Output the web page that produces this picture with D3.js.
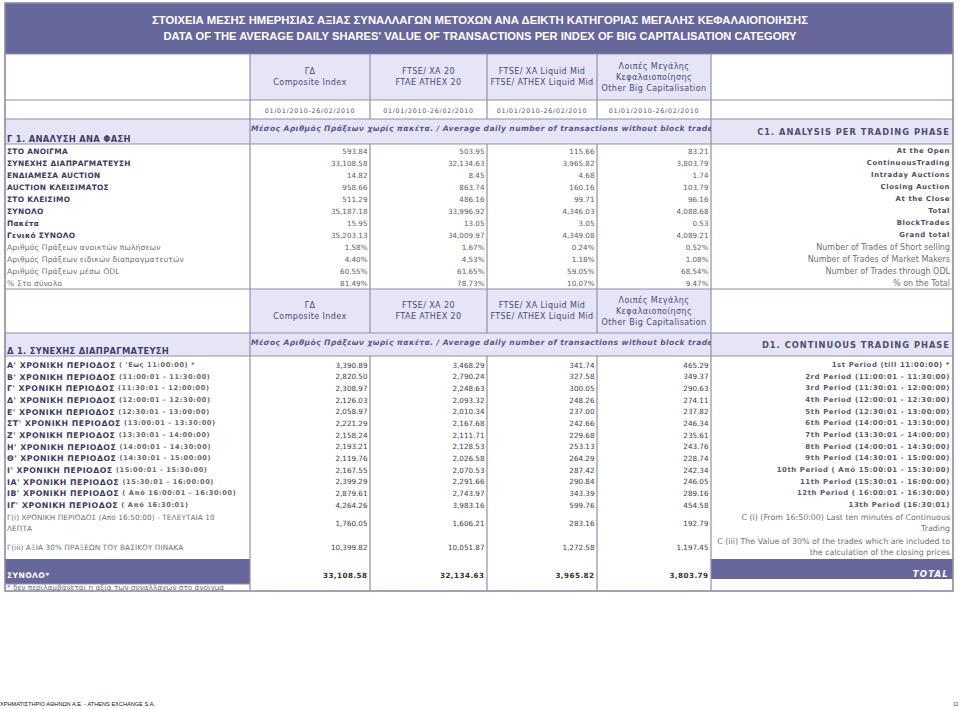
<!DOCTYPE html>
<html><head><meta charset="utf-8">
<script src="https://cdn.jsdelivr.net/npm/d3@7"></script>
<style>body{margin:0;background:#fff}svg{display:block}</style>
</head><body><svg id="c" width="960" height="709"></svg>
<script>
// ---------- DATA ----------
const titleGr = "ΣΤΟΙΧΕΙΑ ΜΕΣΗΣ ΗΜΕΡΗΣΙΑΣ ΑΞΙΑΣ ΣΥΝΑΛΛΑΓΩΝ  ΜΕΤΟΧΩΝ ΑΝΑ ΔΕΙΚΤΗ ΚΑΤΗΓΟΡΙΑΣ ΜΕΓΑΛΗΣ ΚΕΦΑΛΑΙΟΠΟΙΗΣΗΣ";
const titleEn = "DATA OF THE AVERAGE  DAILY SHARES' VALUE OF TRANSACTIONS PER INDEX OF BIG CAPITALISATION CATEGORY";
const indexHeaders = [
  ["ΓΔ", "Composite Index"],
  ["FTSE/ ΧΑ 20", "FTAE ATHEX 20"],
  ["FTSE/ ΧΑ Liquid Mid", "FTSE/ ATHEX Liquid Mid"],
  ["Λοιπές Μεγάλης", "Κεφαλαιοποίησης", "Other  Big Capitalisation"]
];
const periodLabel = "01/01/2010-26/02/2010";
const measureLabel = "Μέσος  Αριθμός Πράξεων χωρίς πακέτα.  /  Average daily number of transactions without block trades";
const sectionC1Gr = "Γ 1. ΑΝΑΛΥΣΗ ΑΝΑ ΦΑΣΗ";
const sectionC1En = "C1. ANALYSIS PER TRADING PHASE";
const sectionD1Gr = "Δ 1. ΣΥΝΕΧΗΣ ΔΙΑΠΡΑΓΜΑΤΕΥΣΗ";
const sectionD1En = "D1. CONTINUOUS TRADING PHASE";

// C1 – trading phases
const phaseGr = ["ΣΤΟ ΑΝΟΙΓΜΑ", "ΣΥΝΕΧΗΣ ΔΙΑΠΡΑΓΜΑΤΕΥΣΗ", "ΕΝΔΙΑΜΕΣΑ AUCTION", "AUCTION ΚΛΕΙΣΙΜΑΤΟΣ", "ΣΤΟ ΚΛΕΙΣΙΜΟ", "ΣΥΝΟΛΟ", "Πακέτα", "Γενικό ΣΥΝΟΛΟ"];
const phaseEn = ["At the Open", "ContinuousTrading", "Intraday Auctions", "Closing Auction", "At the Close", "Total", "BlockTrades", "Grand total"];
const phaseComposite = [593.84, 33108.58, 14.82, 958.66, 511.29, 35187.18, 15.95, 35203.13];
const phaseFtse20    = [503.95, 32134.63, 8.45, 863.74, 486.16, 33996.92, 13.05, 34009.97];
const phaseLiquidMid = [115.66, 3965.82, 4.68, 160.16, 99.71, 4346.03, 3.05, 4349.08];
const phaseOtherBig  = [83.21, 3803.79, 1.74, 103.79, 96.16, 4088.68, 0.53, 4089.21];

// C1 – shares (%)
const ratioGr = ["Αριθμός Πράξεων ανοικτών πωλήσεων", "Αριθμός Πράξεων ειδικών διαπραγματευτών", "Αριθμός  Πράξεων μέσω ODL", "% Στο σύνολο"];
const ratioEn = ["Number of Trades of Short selling", "Number of Trades  of Market Makers", "Number of Trades through ODL", "% on the Total"];
const ratioComposite = [1.58, 4.40, 60.55, 81.49];
const ratioFtse20    = [1.67, 4.53, 61.65, 78.73];
const ratioLiquidMid = [0.24, 1.18, 59.05, 10.07];
const ratioOtherBig  = [0.52, 1.08, 68.54, 9.47];

// D1 – continuous trading periods
const periodPrefixGr = ["Α' ΧΡΟΝΙΚΗ ΠΕΡΙΟΔΟΣ", "Β' ΧΡΟΝΙΚΗ ΠΕΡΙΟΔΟΣ", "Γ' ΧΡΟΝΙΚΗ ΠΕΡΙΟΔΟΣ", "Δ' ΧΡΟΝΙΚΗ ΠΕΡΙΟΔΟΣ", "Ε' ΧΡΟΝΙΚΗ ΠΕΡΙΟΔΟΣ", "ΣΤ' ΧΡΟΝΙΚΗ ΠΕΡΙΟΔΟΣ", "Ζ' ΧΡΟΝΙΚΗ ΠΕΡΙΟΔΟΣ", "Η' ΧΡΟΝΙΚΗ ΠΕΡΙΟΔΟΣ", "Θ' ΧΡΟΝΙΚΗ ΠΕΡΙΟΔΟΣ", "Ι' ΧΡΟΝΙΚΗ ΠΕΡΙΟΔΟΣ", "ΙΑ' ΧΡΟΝΙΚΗ ΠΕΡΙΟΔΟΣ", "ΙΒ' ΧΡΟΝΙΚΗ ΠΕΡΙΟΔΟΣ", "ΙΓ' ΧΡΟΝΙΚΗ ΠΕΡΙΟΔΟΣ"];
const periodSuffixGr = ["( 'Εως 11:00:00) *", "(11:00:01 - 11:30:00)", "(11:30:01 - 12:00:00)", "(12:00:01 - 12:30:00)", "(12:30:01 - 13:00:00)", "(13:00:01 - 13:30:00)", "(13:30:01 - 14:00:00)", "(14:00:01 - 14:30:00)", "(14:30:01 - 15:00:00)", "(15:00:01 - 15:30:00)", "(15:30:01 - 16:00:00)", "( Από 16:00:01 - 16:30:00)", "( Από 16:30:01)"];
const periodEn = ["1st Period   (till 11:00:00) *", "2rd Period (11:00:01 - 11:30:00)", "3rd Period (11:30:01 - 12:00:00)", "4th Period (12:00:01 - 12:30:00)", "5th Period (12:30:01 - 13:00:00)", "6th Period (14:00:01 - 13:30:00)", "7th Period (13:30:01 - 14:00:00)", "8th Period (14:00:01 - 14:30:00)", "9th Period (14:30:01 - 15:00:00)", "10th Period ( Από 15:00:01 - 15:30:00)", "11th Period (15:30:01 - 16:00:00)", "12th Period ( 16:00:01 - 16:30:00)", "13th Period (16:30:01)"];
const periodComposite = [3390.89, 2820.50, 2308.97, 2126.03, 2058.97, 2221.29, 2158.24, 2193.21, 2119.76, 2167.55, 2399.29, 2879.61, 4264.26];
const periodFtse20    = [3468.29, 2790.24, 2248.63, 2093.32, 2010.34, 2167.68, 2111.71, 2128.53, 2026.58, 2070.53, 2291.66, 2743.97, 3983.16];
const periodLiquidMid = [341.74, 327.58, 300.05, 248.26, 237.00, 242.66, 229.68, 253.13, 264.29, 287.42, 290.84, 343.39, 599.76];
const periodOtherBig  = [465.29, 349.37, 290.63, 274.11, 237.82, 246.34, 235.61, 243.76, 228.74, 242.34, 246.05, 289.16, 454.58];

// D1 – extra rows
const extraGr = [["Γ(i) ΧΡΟΝΙΚΗ ΠΕΡΙΟΔΟΣ (Από 16:50:00) - ΤΕΛΕΥΤΑΙΑ 10", "ΛΕΠΤΑ"], ["Γ(iii) ΑΞΙΑ 30% ΠΡΑΞΕΩΝ ΤΟΥ ΒΑΣΙΚΟΥ ΠΙΝΑΚΑ"]];
const extraEn = [["C (i)  (From 16:50:00)  Last ten minutes of Continuous", "Trading"], ["C (iii) The Value of 30% of the trades which  are included to", "the calculation of the closing prices"]];
const extraComposite = [1760.05, 10399.82];
const extraFtse20    = [1606.21, 10051.87];
const extraLiquidMid = [283.16, 1272.58];
const extraOtherBig  = [192.79, 1197.45];

const totalGr = "ΣΥΝΟΛΟ*";
const totalEn = "TOTAL";
const totalValues = [33108.58, 32134.63, 3965.82, 3803.79];
const footnote = "* δεν περιλαμβάνεται η αξία των συναλλαγών στο άνοιγμα";
const footerLeft = "ΧΡΗΜΑΤΙΣΤΗΡΙΟ ΑΘΗΝΩΝ Α.Ε. - ATHENS EXCHANGE S.A.";
const footerPage = "13";

// ---------- LAYOUT ----------
const svg = d3.select("#c");
const F = "'DejaVu Sans', Verdana, sans-serif";
const PURPLE = "#67679b", LAV = "#e5e5f6", LINE = "#8f8fad";
const NAVY = "#3f3f6c", GREY = "#5c5c5c", LGREY = "#707070";

const colKeys = ["label", "composite", "ftse20", "liquidMid", "otherBig", "english"];
const colLeft = d3.scaleOrdinal().domain(colKeys).range([5, 250, 370, 487, 597, 711]);
const colRight = d3.scaleOrdinal().domain(colKeys).range([250, 370, 487, 597, 711, 953]);
const valueCols = colKeys.slice(1, 5);
const L = 5, R = 953;

const fmtNum = d3.format(",.2f");
const fmtPct = v => d3.format(".2f")(v) + "%";

const yC1 = d3.scaleBand().domain(d3.range(phaseGr.length + ratioGr.length)).range([145, 289]);
const yD1 = d3.scaleBand().domain(d3.range(periodPrefixGr.length)).range([359.2, 511]);
const yExtra = d3.scaleBand().domain(d3.range(extraGr.length)).range([511, 559]);

const gFill = svg.append("g"), gLine = svg.append("g"), gText = svg.append("g");

function rect(x0, y0, x1, y1, fill) {
  gFill.append("rect").attr("x", x0).attr("y", y0).attr("width", x1 - x0).attr("height", y1 - y0).attr("fill", fill);
}
function hline(y, x0 = L, x1 = R) {
  gLine.append("line").attr("x1", x0).attr("x2", x1).attr("y1", y).attr("y2", y).attr("stroke", LINE).attr("stroke-width", 1.2);
}
function vline(x, y0, y1) {
  gLine.append("line").attr("x1", x).attr("x2", x).attr("y1", y0).attr("y2", y1).attr("stroke", LINE).attr("stroke-width", 1.2);
}
function text(x, y, s, o = {}) {
  const t = gText.append("text").attr("x", x).attr("y", y).text(s)
    .attr("font-family", o.family || F).attr("font-size", o.size || 7)
    .attr("font-weight", o.weight || "normal").attr("font-style", o.style || "normal")
    .attr("fill", o.fill || GREY).attr("text-anchor", o.anchor || "start")
    .attr("dominant-baseline", "central");
  if (o.ls) t.attr("letter-spacing", o.ls);
  if (o.tl) t.attr("textLength", o.tl).attr("lengthAdjust", "spacingAndGlyphs");
  if (o.clip) t.attr("clip-path", o.clip);
  return t;
}

// fills
rect(L, 3, R, 54, PURPLE);
rect(colLeft("composite"), 54, colRight("otherBig"), 100, LAV);
rect(L, 119, R, 144, LAV);
rect(colLeft("composite"), 289, colRight("otherBig"), 333, LAV);
rect(L, 333, R, 356, LAV);
rect(L, 559, colRight("label"), 584, PURPLE);
rect(colLeft("english"), 559, R, 579, PURPLE);

// lines
[54, 100, 119, 144, 289, 333, 356].forEach(y => hline(y));
hline(584, L, colRight("label"));
gLine.append("rect").attr("x", L).attr("y", 3).attr("width", R - L).attr("height", 588)
  .attr("fill", "none").attr("stroke", "#8a8aa6").attr("stroke-width", 1.6);
vline(colLeft("composite"), 54, 591);
vline(colLeft("english"), 54, 591);
["ftse20", "liquidMid", "otherBig"].forEach(k => {
  vline(colLeft(k), 54, 119); vline(colLeft(k), 144, 333); vline(colLeft(k), 356, 591);
});

// title
const TF = "'Liberation Sans', Arial, sans-serif";
text(480, 20, titleGr, {size: 11, weight: "bold", fill: "#fff", anchor: "middle", family: TF, tl: 656});
text(480, 36, titleEn, {size: 11, weight: "bold", fill: "#fff", anchor: "middle", family: TF, tl: 633});

// column headers (two header blocks)
function headers(yTop, yBot) {
  valueCols.forEach((k, i) => {
    const lines = indexHeaders[i];
    const cx = (colLeft(k) + colRight(k)) / 2;
    const cy = (yTop + yBot) / 2;
    const lh = 11;
    lines.forEach((s, j) => text(cx, cy + (j - (lines.length - 1) / 2) * lh, s,
      {size: 8, fill: "#4a4a7a", anchor: "middle", ls: 0.4}));
  });
}
headers(54, 100);
headers(289, 333);
// dates
valueCols.forEach(k => text((colLeft(k) + colRight(k)) / 2, 110, periodLabel, {size: 6.3, fill: "#555", anchor: "middle", ls: 0.75}));

// clip for measure label
svg.append("clipPath").attr("id", "mclip").append("rect").attr("x", 250).attr("y", 100).attr("width", 461).attr("height", 280);

// C1 section header
text(7, 138.5, sectionC1Gr, {size: 8.4, weight: "bold", fill: NAVY, ls: 0.3});
text(251, 128, measureLabel, {size: 7.6, weight: "bold", style: "italic", fill: "#5a5a88", ls: 0.4, clip: "url(#mclip)"});
text(950, 131.5, sectionC1En, {size: 8.3, weight: "bold", fill: "#4f4f6f", anchor: "end", ls: 1.0});

// C1 rows
const phaseCols = [phaseComposite, phaseFtse20, phaseLiquidMid, phaseOtherBig];
const ratioCols = [ratioComposite, ratioFtse20, ratioLiquidMid, ratioOtherBig];
phaseGr.forEach((s, i) => {
  const y = yC1(i) + yC1.bandwidth() / 2;
  text(7, y, s, {size: 7.4, weight: "bold", fill: "#3b3b5e", ls: 0.3});
  valueCols.forEach((k, c) => text(colRight(k) - 2.5, y, fmtNum(phaseCols[c][i]), {size: 7.2, fill: GREY, anchor: "end"}));
  text(950, y, phaseEn[i], {size: 6.9, weight: "bold", fill: "#4e4e5e", anchor: "end", ls: 0.6});
});
ratioGr.forEach((s, i) => {
  const idx = phaseGr.length + i;
  const y = yC1(idx) + yC1.bandwidth() / 2;
  text(7, y, s, {size: 7.6, fill: LGREY, ls: 0.15});
  valueCols.forEach((k, c) => text(colRight(k) - 2.5, y, fmtPct(ratioCols[c][i]), {size: 7.2, fill: GREY, anchor: "end"}));
  text(950, y, ratioEn[i], {size: 8, fill: LGREY, anchor: "end"});
});

// D1 section header
text(7, 351, sectionD1Gr, {size: 8.4, weight: "bold", fill: NAVY, ls: 0.3});
text(251, 342, measureLabel, {size: 7.6, weight: "bold", style: "italic", fill: "#5a5a88", ls: 0.4, clip: "url(#mclip)"});
text(950, 345, sectionD1En, {size: 8.3, weight: "bold", fill: "#4f4f6f", anchor: "end", ls: 1.0});

// D1 rows
const periodCols = [periodComposite, periodFtse20, periodLiquidMid, periodOtherBig];
periodPrefixGr.forEach((s, i) => {
  const y = yD1(i) + yD1.bandwidth() / 2;
  const t = text(7, y, "", {size: 7.8, weight: "bold", fill: "#3b3b5e", ls: 0.5});
  t.append("tspan").text(s + " ");
  t.append("tspan").text(periodSuffixGr[i]).attr("fill", "#666").attr("font-size", 6.6).attr("letter-spacing", 0.6);
  valueCols.forEach((k, c) => text(colRight(k) - 2.5, y, fmtNum(periodCols[c][i]), {size: 7.2, fill: "#3c3c3c", anchor: "end"}));
  text(950, y, periodEn[i], {size: 6.9, weight: "bold", fill: "#5a5a6a", anchor: "end", ls: 0.6});
});

// extra rows
const extraCols = [extraComposite, extraFtse20, extraLiquidMid, extraOtherBig];
extraGr.forEach((lines, i) => {
  const cy = yExtra(i) + yExtra.bandwidth() / 2;
  lines.forEach((s, j) => text(7, cy + (j - (lines.length - 1) / 2) * 10.5, s, {size: 7.3, fill: LGREY, ls: 0.1}));
  valueCols.forEach((k, c) => text(colRight(k) - 2.5, cy, fmtNum(extraCols[c][i]), {size: 7.2, fill: "#3c3c3c", anchor: "end"}));
  extraEn[i].forEach((s, j) => text(950, cy + (j - (extraEn[i].length - 1) / 2) * 11, s, {size: 7.9, fill: LGREY, anchor: "end"}));
});

// total row
text(7, 575.5, totalGr, {size: 7.6, weight: "bold", fill: "#fff", ls: 0.4});
valueCols.forEach((k, c) => text(colRight(k) - 2.5, 575, fmtNum(totalValues[c]), {size: 7.2, weight: "bold", fill: "#333", anchor: "end", ls: 0.45}));
text(949, 574, totalEn, {size: 8.5, weight: "bold", style: "italic", fill: "#fff", anchor: "end", ls: 1.2});
text(7, 587.5, footnote, {size: 7.3, fill: LGREY});

// page footer
text(0, 703.5, footerLeft, {size: 6, fill: "#111", family: TF, tl: 155});
text(958, 704, footerPage, {size: 4.5, fill: "#333", anchor: "end", family: TF});
</script></body></html>
